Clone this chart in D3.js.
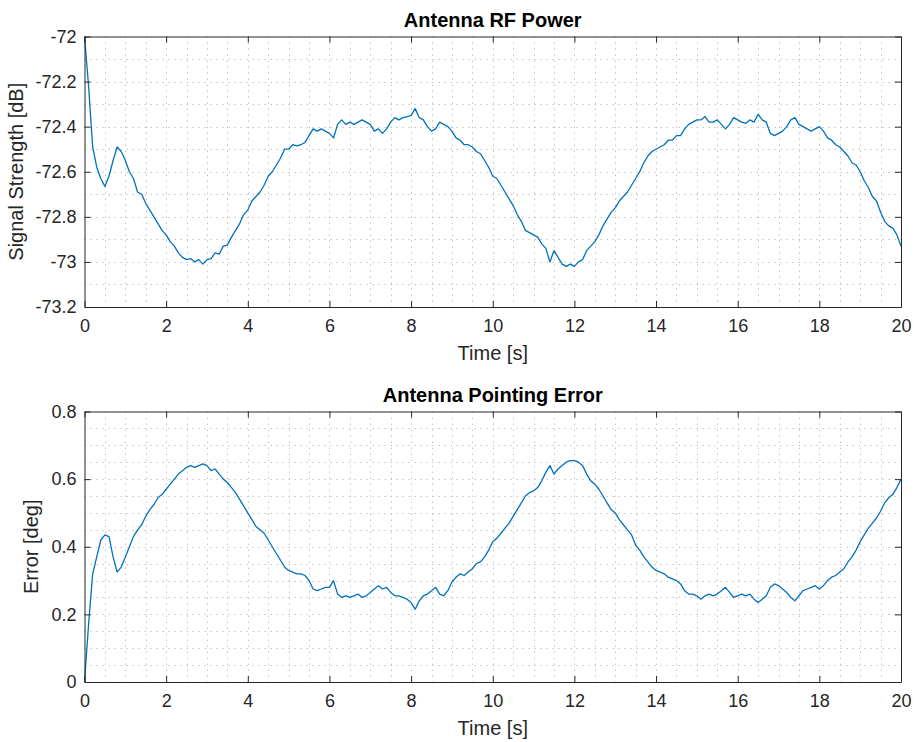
<!DOCTYPE html>
<html>
<head>
<meta charset="utf-8">
<script src="https://cdn.jsdelivr.net/npm/d3@7"></script>
<style>
  html, body { margin: 0; padding: 0; background: #fff; }
  svg { display: block; font-family: "Liberation Sans", Arial, Helvetica, sans-serif; }
</style>
</head>
<body>
<script>
// Sample times: 0 to 20 s in 0.1 s steps
const timeStart = 0, timeStep = 0.1;

// Received RF power [dB]
const rfPower = [
  -72.00, -72.22, -72.49, -72.58, -72.63, -72.665, -72.62, -72.55, -72.49, -72.51,
  -72.55, -72.60, -72.63, -72.69, -72.70, -72.74, -72.77, -72.80, -72.83, -72.86,
  -72.88, -72.91, -72.93, -72.96, -72.98, -72.99, -72.985, -73.00, -72.99, -73.01,
  -72.99, -72.985, -72.96, -72.965, -72.93, -72.925, -72.89, -72.86, -72.83, -72.79,
  -72.77, -72.73, -72.71, -72.69, -72.66, -72.62, -72.60, -72.57, -72.54, -72.50,
  -72.50, -72.48, -72.485, -72.48, -72.47, -72.44, -72.41, -72.42, -72.41, -72.42,
  -72.43, -72.45, -72.39, -72.37, -72.39, -72.38, -72.39, -72.38, -72.37, -72.38,
  -72.39, -72.42, -72.41, -72.43, -72.41, -72.38, -72.36, -72.37, -72.36, -72.355,
  -72.35, -72.32, -72.36, -72.37, -72.40, -72.42, -72.41, -72.38, -72.39, -72.40,
  -72.42, -72.45, -72.46, -72.48, -72.48, -72.49, -72.51, -72.52, -72.55, -72.58,
  -72.62, -72.63, -72.66, -72.69, -72.72, -72.75, -72.79, -72.82, -72.86, -72.87,
  -72.88, -72.89, -72.92, -72.94, -73.00, -72.95, -72.98, -73.01, -73.02, -73.01,
  -73.02, -73.00, -72.99, -72.95, -72.93, -72.91, -72.88, -72.84, -72.81, -72.78,
  -72.76, -72.73, -72.71, -72.69, -72.66, -72.63, -72.60, -72.56, -72.53, -72.51,
  -72.50, -72.49, -72.48, -72.46, -72.46, -72.44, -72.44, -72.41, -72.39, -72.38,
  -72.37, -72.37, -72.355, -72.38, -72.38, -72.37, -72.39, -72.41, -72.39, -72.36,
  -72.37, -72.38, -72.385, -72.37, -72.38, -72.345, -72.37, -72.38, -72.43, -72.44,
  -72.43, -72.42, -72.40, -72.37, -72.36, -72.39, -72.40, -72.41, -72.42, -72.41,
  -72.40, -72.42, -72.45, -72.46, -72.48, -72.49, -72.51, -72.53, -72.56, -72.57,
  -72.60, -72.64, -72.67, -72.71, -72.73, -72.78, -72.82, -72.84, -72.85, -72.88,
  -72.93
];

// Pointing error [deg]
const pointingError = [
  0.00, 0.17, 0.32, 0.37, 0.42, 0.435, 0.43, 0.37, 0.325, 0.34,
  0.37, 0.40, 0.43, 0.45, 0.465, 0.49, 0.51, 0.525, 0.545, 0.555,
  0.57, 0.585, 0.60, 0.615, 0.625, 0.635, 0.64, 0.635, 0.64, 0.645,
  0.64, 0.625, 0.63, 0.615, 0.60, 0.59, 0.575, 0.56, 0.54, 0.52,
  0.50, 0.48, 0.46, 0.45, 0.44, 0.42, 0.40, 0.38, 0.36, 0.34,
  0.33, 0.325, 0.32, 0.32, 0.315, 0.30, 0.275, 0.27, 0.275, 0.28,
  0.28, 0.30, 0.26, 0.25, 0.255, 0.25, 0.255, 0.26, 0.25, 0.255,
  0.265, 0.275, 0.285, 0.275, 0.28, 0.265, 0.255, 0.255, 0.25, 0.245,
  0.235, 0.215, 0.24, 0.255, 0.26, 0.27, 0.28, 0.26, 0.255, 0.27,
  0.295, 0.31, 0.32, 0.315, 0.325, 0.335, 0.35, 0.355, 0.37, 0.39,
  0.415, 0.425, 0.44, 0.455, 0.47, 0.49, 0.51, 0.53, 0.55, 0.56,
  0.565, 0.575, 0.595, 0.62, 0.64, 0.615, 0.63, 0.64, 0.65, 0.655,
  0.655, 0.65, 0.64, 0.615, 0.595, 0.585, 0.57, 0.55, 0.53, 0.51,
  0.50, 0.48, 0.465, 0.45, 0.435, 0.405, 0.39, 0.37, 0.355, 0.34,
  0.33, 0.325, 0.32, 0.31, 0.305, 0.30, 0.29, 0.27, 0.26, 0.26,
  0.255, 0.245, 0.255, 0.26, 0.255, 0.26, 0.27, 0.28, 0.265, 0.25,
  0.255, 0.26, 0.255, 0.26, 0.245, 0.235, 0.245, 0.255, 0.28, 0.29,
  0.285, 0.275, 0.265, 0.25, 0.24, 0.255, 0.27, 0.275, 0.28, 0.285,
  0.275, 0.285, 0.30, 0.31, 0.315, 0.325, 0.335, 0.355, 0.37, 0.39,
  0.415, 0.435, 0.455, 0.47, 0.485, 0.505, 0.53, 0.545, 0.555, 0.575,
  0.60
];

// Axis ticks
const timeTicks = [0, 2, 4, 6, 8, 10, 12, 14, 16, 18, 20];
const timeMinorStep = 0.5;
const powerTicks = [-73.2, -73, -72.8, -72.6, -72.4, -72.2, -72];
const powerMinorStep = 0.1;
const errorTicks = [0, 0.2, 0.4, 0.6, 0.8];
const errorMinorStep = 0.05;

const W = 915, H = 742;
const lineColor = "#0072BD";
const axisColor = "#262626";
const gridColor = "#c4c4c4";
const fontFamily = '"Liberation Sans", Arial, Helvetica, sans-serif';

const svg = d3.select("body").append("svg")
  .attr("width", W).attr("height", H);

function range(a, b, step) {
  const out = [];
  const n = Math.round((b - a) / step);
  for (let i = 0; i <= n; i++) out.push(+(a + i * step).toFixed(6));
  return out;
}

// plain number text with an ASCII hyphen for negatives
const numFmt = d => String(+(+d).toFixed(1));

function drawPanel(cfg) {
  const { left, right, top, bottom, yDomain, yTicks, yMinor, values, title, yLabel } = cfg;
  const x = d3.scaleLinear().domain([0, 20]).range([left, right]);
  const y = d3.scaleLinear().domain(yDomain).range([bottom, top]);
  const g = svg.append("g");

  // dotted grid at every minor step (majors included)
  const gx = range(0, 20, timeMinorStep);
  const gy = range(yDomain[0], yDomain[1], yMinor);
  g.append("g").selectAll("line").data(gx.slice(1, -1)).join("line")
    .attr("x1", d => Math.round(x(d)) + 0.5).attr("x2", d => Math.round(x(d)) + 0.5)
    .attr("y1", top).attr("y2", bottom)
    .attr("stroke", gridColor).attr("stroke-width", 1).attr("stroke-dasharray", "1.5,4.5");
  g.append("g").selectAll("line").data(gy.slice(1, -1)).join("line")
    .attr("y1", d => Math.round(y(d)) + 0.5).attr("y2", d => Math.round(y(d)) + 0.5)
    .attr("x1", left).attr("x2", right)
    .attr("stroke", gridColor).attr("stroke-width", 1).attr("stroke-dasharray", "1.5,4.5");

  // data line
  const pts = values.map((v, i) => [timeStart + i * timeStep, v]);
  g.append("path").datum(pts)
    .attr("fill", "none").attr("stroke", lineColor).attr("stroke-width", 1.3)
    .attr("stroke-linejoin", "round")
    .attr("d", d3.line().x(d => x(d[0])).y(d => y(d[1])));

  // axes: ticks inward on all four sides
  const tickLen = 6;
  const bottomAxis = d3.axisBottom(x).tickValues(timeTicks).tickSizeInner(-tickLen).tickSizeOuter(0)
    .tickPadding(12).tickFormat(d3.format("d"));
  const topAxis = d3.axisTop(x).tickValues(timeTicks).tickSizeInner(-tickLen).tickSizeOuter(0).tickFormat("");
  const leftAxis = d3.axisLeft(y).tickValues(yTicks).tickSizeInner(-tickLen).tickSizeOuter(0)
    .tickPadding(8).tickFormat(numFmt);
  const rightAxis = d3.axisRight(y).tickValues(yTicks).tickSizeInner(-tickLen).tickSizeOuter(0).tickFormat("");

  [
    [bottomAxis, `translate(0,${bottom})`],
    [topAxis, `translate(0,${top})`],
    [leftAxis, `translate(${left},0)`],
    [rightAxis, `translate(${right},0)`]
  ].forEach(([a, t]) => {
    const s = g.append("g").attr("transform", t).call(a);
    s.select(".domain").attr("stroke", axisColor).attr("stroke-width", 1);
    s.selectAll(".tick line").attr("stroke", axisColor);
    s.selectAll(".tick text").attr("fill", axisColor)
      .style("font-size", "18px").style("font-family", fontFamily);
  });

  // title
  g.append("text").attr("x", (left + right) / 2).attr("y", top - 10)
    .attr("text-anchor", "middle").attr("fill", "#000")
    .style("font-size", "20px").style("font-weight", "bold").text(title);

  // x label
  g.append("text").attr("x", (left + right) / 2).attr("y", bottom + 53)
    .attr("text-anchor", "middle").attr("fill", axisColor)
    .style("font-size", "20px").text("Time [s]");

  // y label
  g.append("text")
    .attr("transform", `translate(${cfg.yLabelX},${(top + bottom) / 2}) rotate(-90)`)
    .attr("text-anchor", "middle").attr("fill", axisColor)
    .style("font-size", "20px").text(yLabel);
}

drawPanel({
  left: 84.5, right: 901, top: 36.5, bottom: 307,
  yDomain: [-73.2, -72], yTicks: powerTicks, yMinor: powerMinorStep,
  values: rfPower, title: "Antenna RF Power", yLabel: "Signal Strength [dB]",
  yLabelX: 23
});

drawPanel({
  left: 84.5, right: 901, top: 411.5, bottom: 682,
  yDomain: [0, 0.8], yTicks: errorTicks, yMinor: errorMinorStep,
  values: pointingError, title: "Antenna Pointing Error", yLabel: "Error [deg]",
  yLabelX: 38
});
</script>
</body>
</html>
